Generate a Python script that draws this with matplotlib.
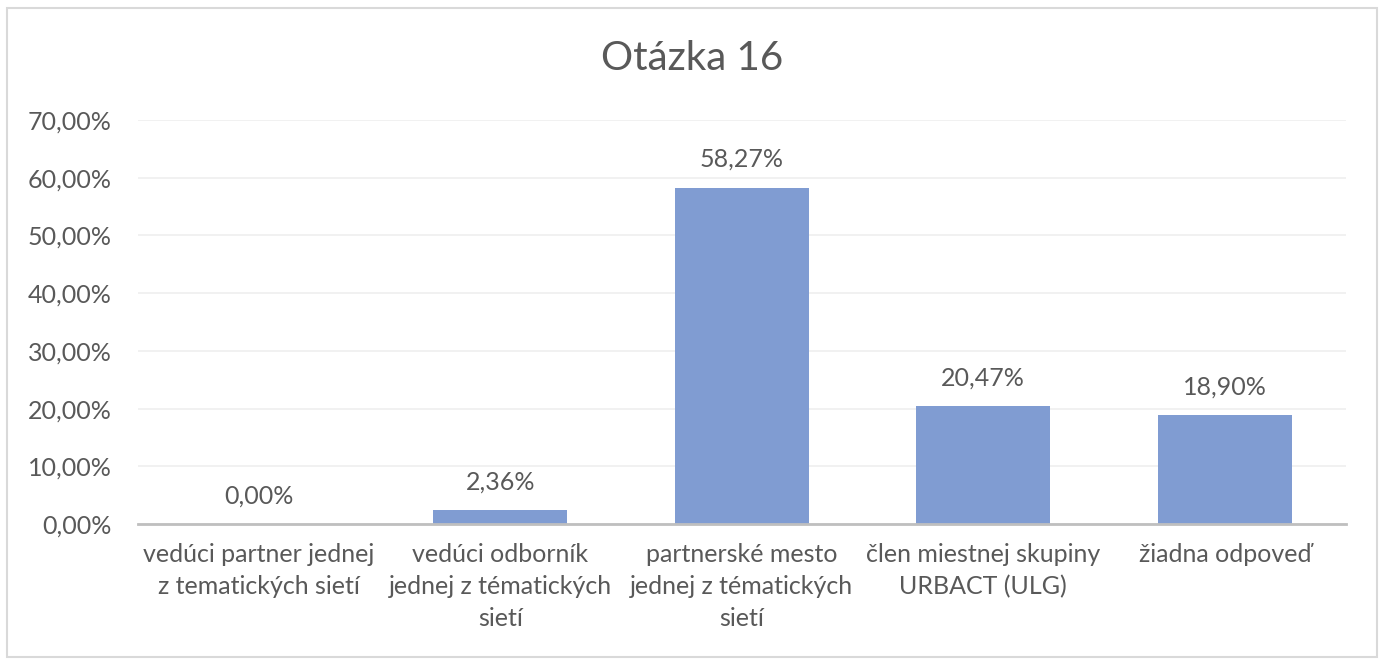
import matplotlib.pyplot as plt
from matplotlib.patches import Rectangle
from matplotlib.ticker import FuncFormatter

plt.rcParams['font.family'] = ['Lato', 'DejaVu Sans']

# data
categories = ['vedúci partner jednej\nz tematických sietí',
              'vedúci odborník\njednej z tématických\nsietí',
              'partnerské mesto\njednej z tématických\nsietí',
              'člen miestnej skupiny\nURBACT (ULG)',
              'žiadna odpoveď']
values = [0.0, 0.0236, 0.5827, 0.2047, 0.1890]

text_col = '#595959'

fig = plt.figure(figsize=(13.85, 6.65), dpi=100)
ax = fig.add_axes([0.0996, 0.212, 0.8719, 0.6075])

x = range(len(categories))
ax.bar(x, values, width=0.555, color='#809CD2', zorder=2)

for xi, v in zip(x, values):
    ax.annotate(f'{v*100:.2f}%'.replace('.', ','), (xi, v), xytext=(0, 12),
                textcoords='offset points', ha='center', va='bottom',
                fontsize=18, color=text_col)

ax.set_xlim(-0.5, len(categories) - 0.5)
ax.set_ylim(0, 0.70)
ax.set_yticks([i / 10 for i in range(8)])
ax.yaxis.set_major_formatter(FuncFormatter(lambda v, p: f'{v*100:.2f}%'.replace('.', ',')))
ax.set_xticks(list(x))
ax.set_xticklabels(categories, fontsize=18, color=text_col, linespacing=1.45)
ax.tick_params(axis='y', length=0, pad=19, labelsize=18, labelcolor=text_col)
ax.tick_params(axis='x', length=0, pad=14)

ax.grid(axis='y', color='#EFEFEF', linewidth=1.2, zorder=0)
ax.set_axisbelow(True)
for s in ['top', 'right', 'left']:
    ax.spines[s].set_visible(False)
ax.spines['bottom'].set_color('#BFBFBF')
ax.spines['bottom'].set_linewidth(2)
ax.spines['bottom'].set_zorder(3)

fig.text(0.5, 0.912, 'Otázka 16', ha='center', va='center', fontsize=29, color=text_col)

fig.patches.append(Rectangle((7 / 1385, 8 / 665), 1370 / 1385, 649 / 665,
                             transform=fig.transFigure, fill=False,
                             edgecolor='#D9D9D9', linewidth=1.5))

fig.savefig('out.png', dpi=100)
